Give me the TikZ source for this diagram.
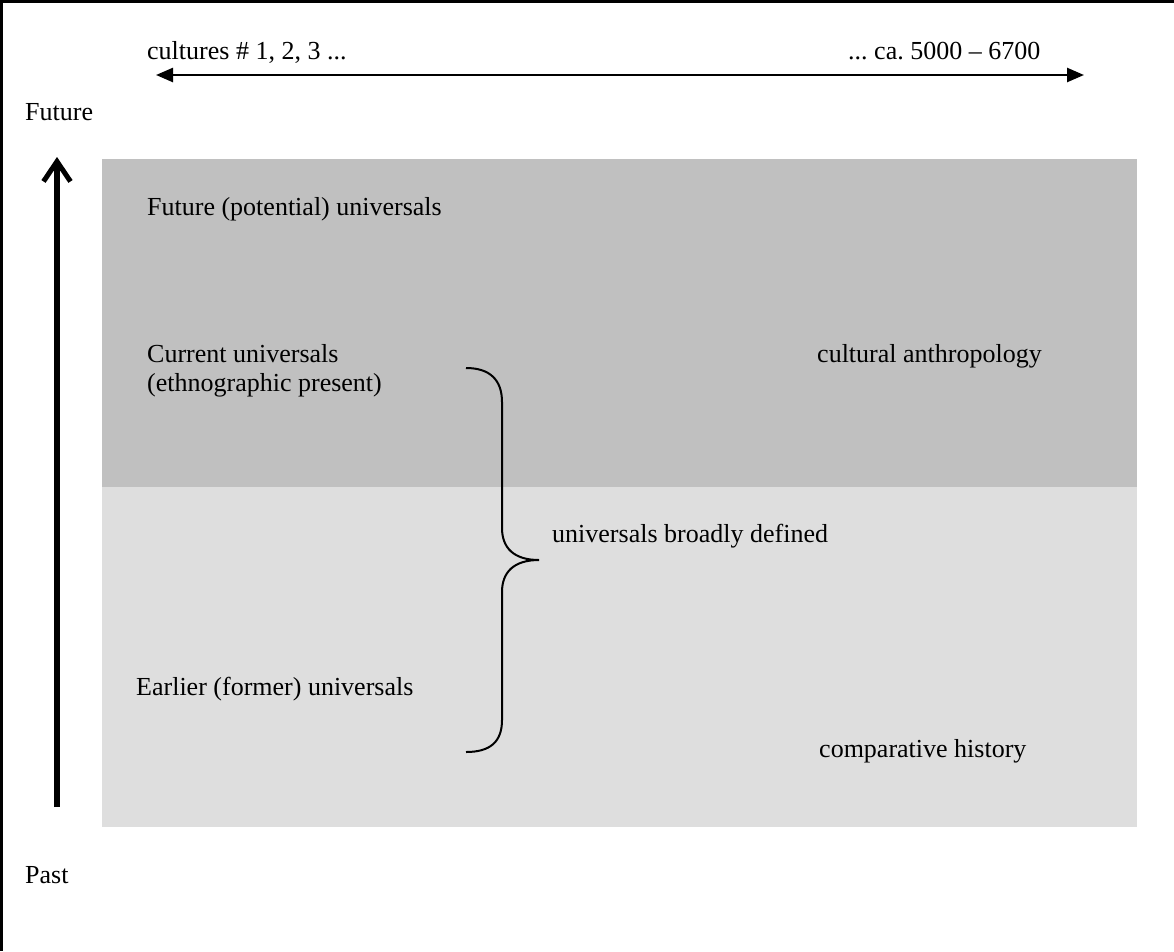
\documentclass[tikz,border=0pt]{standalone}
\usepackage{fontspec}
\setmainfont{Liberation Serif}
\usetikzlibrary{arrows.meta}
\definecolor{darkband}{RGB}{192,192,192}
\definecolor{lightband}{RGB}{222,222,222}
\tikzset{
  lbl/.style={anchor=base west, inner sep=0pt, font=\fontsize{26}{30}\selectfont\frenchspacing, text=black},
  axisarrow/.style={line width=2.5pt, {Triangle[length=17pt,width=14pt]}-{Triangle[length=17pt,width=14pt]}},
  timearrow/.style={line width=5.5pt, -{Straight Barb[length=20pt,width=27pt,line width=5pt]}},
  bracestyle/.style={line width=2pt},
  framestyle/.style={line width=3pt}
}
\begin{document}
\begin{tikzpicture}[x=1pt,y=-1pt]
\useasboundingbox (0,0) rectangle (1174,951);
\fill[white] (0,0) rectangle (1174,951);
% frame
\draw[framestyle] (1174,1.5) -- (1.5,1.5) -- (1.5,951);
% bands
\fill[darkband] (102,159) rectangle (1137,487);
\fill[lightband] (102,487) rectangle (1137,827);
% coordinates for arrows
\coordinate (hl) at (156,75);
\coordinate (hr) at (1084,75);
\coordinate (vb) at (57,807);
\coordinate (vt) at (57,157);
\draw[axisarrow] (hl) -- (hr);
\draw[timearrow] (vb) -- (vt);
% labels
\node[lbl] (cul1) at (147,59) {cultures \# 1, 2, 3 ...};
\node[lbl] (cul2) at (848,59) {... ca. 5000 – 6700};
\node[lbl] (fut) at (25,120) {Future};
\node[lbl] (past) at (25,883) {Past};
\node[lbl] (fpu) at (147,215) {Future (potential) universals};
\node[lbl] (cur) at (147,362) {Current universals};
\node[lbl] (eth) at (147,391) {(ethnographic present)};
\node[lbl] (ca) at (817,362) {cultural anthropology};
\node[lbl] (ubd) at (552,542) {universals broadly defined};
\node[lbl] (efu) at (136,695) {Earlier (former) universals};
\node[lbl] (ch) at (819,757) {comparative history};
% brace
\coordinate (btop) at (466,368);
\coordinate (btip) at (539,560);
\coordinate (bbot) at (466,752);
\draw[bracestyle] (btop) .. controls (490,368) and (502,380) .. (502,402)
  -- (502,528) .. controls (502,548) and (514,560) .. (btip)
  .. controls (514,560) and (502,572) .. (502,592)
  -- (502,720) .. controls (502,742) and (490,752) .. (bbot);
\end{tikzpicture}
\end{document}
